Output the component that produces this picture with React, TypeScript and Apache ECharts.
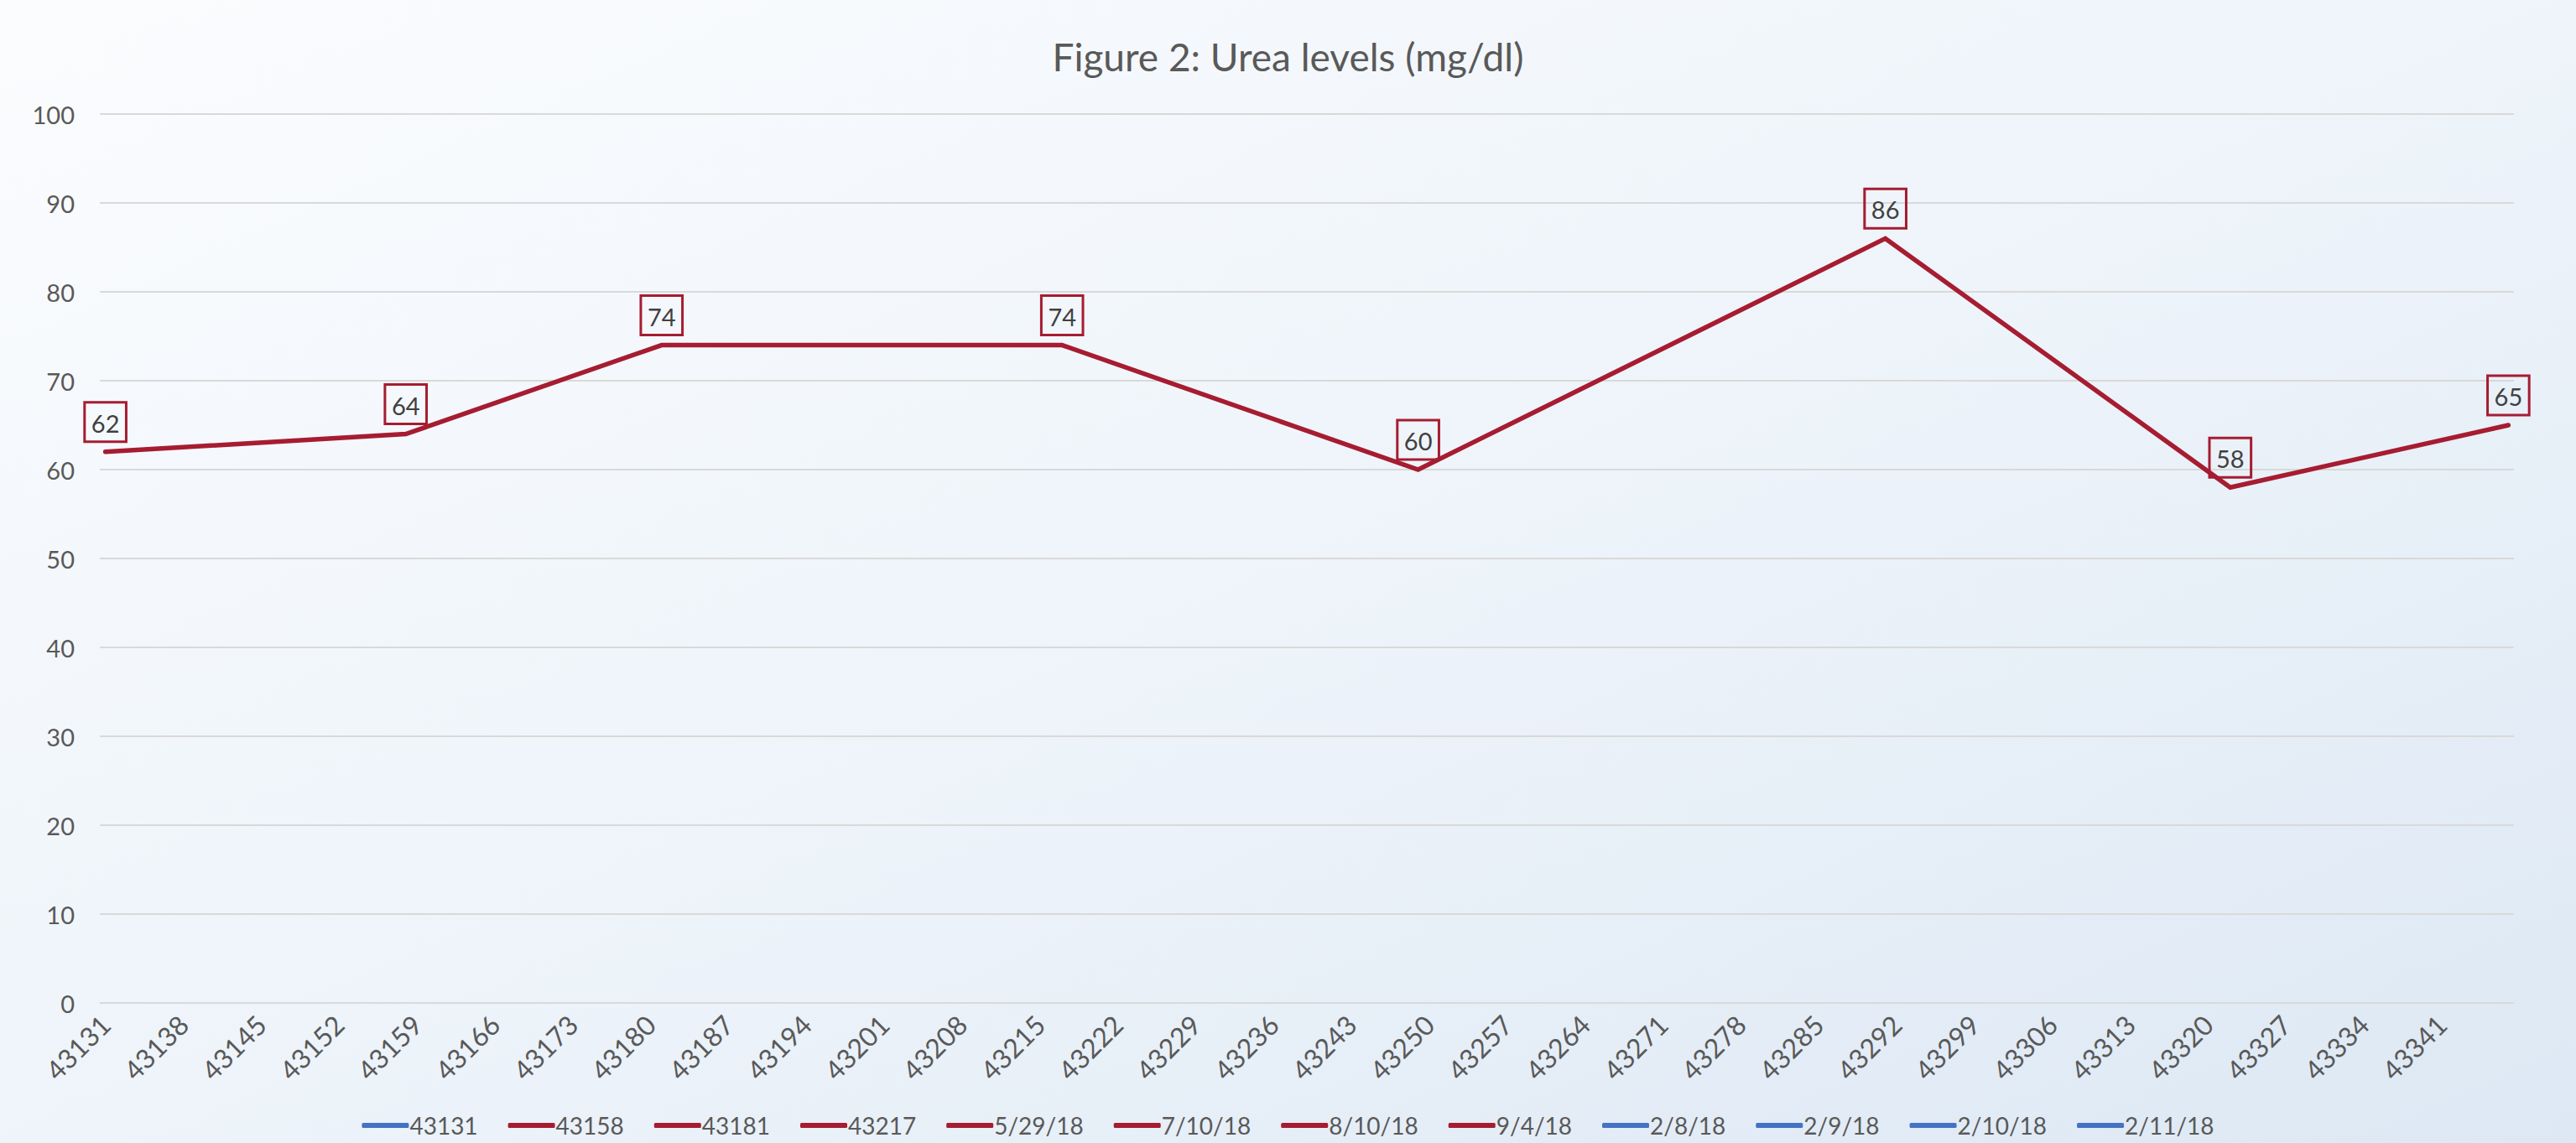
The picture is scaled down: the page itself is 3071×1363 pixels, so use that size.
import React, { useEffect, useRef } from "react";
import * as echarts from "echarts";

const TITLE = "Figure 2: Urea levels (mg/dl)";
const dates = [43131, 43158, 43181, 43217, 43249, 43291, 43322, 43347];
const urea = [62, 64, 74, 74, 60, 86, 58, 65];
const tickValues = [
  43131, 43138, 43145, 43152, 43159, 43166, 43173, 43180, 43187, 43194, 43201,
  43208, 43215, 43222, 43229, 43236, 43243, 43250, 43257, 43264, 43271, 43278,
  43285, 43292, 43299, 43306, 43313, 43320, 43327, 43334, 43341,
];
const legendNames = [
  "43131", "43158", "43181", "43217", "5/29/18", "7/10/18", "8/10/18", "9/4/18",
  "2/8/18", "2/9/18", "2/10/18", "2/11/18",
];
const legendColors = [
  "blue", "red", "red", "red", "red", "red", "red", "red", "blue", "blue", "blue", "blue",
];
const dataSeriesName = "43158";

const RED = "#A61C31";
const BLUE = "#4472C4";
const FONT = "Lato";

const colorOf = (i: number) => (legendColors[i] === "red" ? RED : BLUE);

export default function App() {
  const ref = useRef<HTMLDivElement>(null);
  useEffect(() => {
    if (!ref.current) return;
    const chart = echarts.init(ref.current, null, { renderer: "svg" });
    const series: any[] = legendNames.map((name, i) => {
      const color = colorOf(i);
      const isData = name === dataSeriesName;
      return {
        name,
        type: "line",
        data: isData ? dates.map((d, j) => [d, urea[j]]) : [],
        color,
        lineStyle: { color, width: 5.5, cap: "round", join: "miter" },
        symbol: "circle",
        symbolSize: 0.1,
        showSymbol: true,
        itemStyle: { color: "rgba(0,0,0,0)" },
        z: isData ? 3 : 2,
        label: {
          show: isData,
          position: "top",
          distance: 12,
          color: "#404040",
          fontFamily: FONT,
          fontSize: 29,
          lineHeight: 29,
          borderColor: RED,
          borderWidth: 1.5,
          padding: [10, 8, 8, 8],
          backgroundColor: "transparent",
        },
      };
    });
    chart.setOption({
      animation: false,
      backgroundColor: {
        type: "linear",
        x: 0,
        y: 0,
        x2: 1,
        y2: 1,
        colorStops: [
          { offset: 0, color: "#fbfcfe" },
          { offset: 0.5, color: "#eef4fa" },
          { offset: 1, color: "#dde8f4" },
        ],
      },
      title: {
        text: TITLE,
        left: "center",
        top: 39,
        textStyle: {
          fontFamily: FONT,
          fontSize: 46,
          fontWeight: "normal",
          color: "#595959",
        },
      },
      grid: { left: 119, right: 74, top: 136, bottom: 167, containLabel: false },
      xAxis: {
        type: "value",
        min: 43130.5,
        max: 43347.5,
        axisLine: { show: false },
        axisTick: { show: false },
        splitLine: { show: false },
        axisLabel: {
          customValues: tickValues,
          rotate: 45,
          margin: 20,
          color: "#595959",
          fontFamily: FONT,
          fontSize: 32,
          formatter: (v: number) => String(v),
        },
      },
      yAxis: {
        type: "value",
        min: 0,
        max: 100,
        interval: 10,
        axisLine: { show: false },
        axisTick: { show: false },
        splitLine: { lineStyle: { color: "#d9d9d9", width: 2 } },
        axisLabel: {
          margin: 30,
          color: "#595959",
          fontFamily: FONT,
          fontSize: 29,
        },
      },
      legend: {
        data: legendNames.map((name, i) => ({
          name,
          icon: "roundRect",
          itemStyle: { color: colorOf(i), opacity: 1, borderWidth: 0 },
        })),
        bottom: 2,
        left: "center",
        itemWidth: 56,
        itemHeight: 6,
        itemGap: 36,
        textStyle: {
          color: "#595959",
          fontFamily: FONT,
          fontSize: 28,
          padding: [0, 0, 0, -4],
        },
      },
      series,
    });
    return () => chart.dispose();
  }, []);
  return (
    <div
      ref={ref}
      style={{ position: "fixed", left: 0, top: 0, width: 3071, height: 1363 }}
    />
  );
}
